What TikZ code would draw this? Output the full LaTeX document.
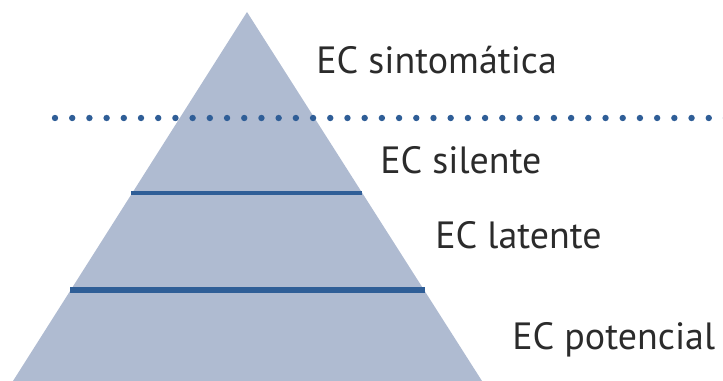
\documentclass[tikz,border=0pt]{standalone}
\usepackage{fontspec}
\setmainfont{PT Sans}
\definecolor{piramide}{HTML}{AFBBD1}
\definecolor{azulfranja}{HTML}{2F5E97}
\definecolor{texto}{HTML}{2B2B2B}
\begin{document}
\begin{tikzpicture}[x=0.025cm, y=-0.025cm,
    etiqueta/.style={anchor=base west, inner sep=0pt, text=texto,
      font=\fontsize{27}{32}\selectfont},
    linea/.style={draw=azulfranja, line width=0.125cm},
    puntos/.style={draw=azulfranja, line width=0.16cm, line cap=round,
      dash pattern=on 0pt off 0.43cm}]
  \useasboundingbox (0,0) rectangle (723,381);

  % Piramide
  \coordinate (cima) at (247,12);
  \coordinate (izq) at (13,381);
  \coordinate (der) at (482,381);
  \fill[piramide] (cima) -- (der) -- (izq) -- cycle;

  % Separaciones entre niveles
  \draw[linea, line width=0.115cm] (131,193) -- (362,193);
  \draw[linea, line width=0.14cm] (70,290) -- (425,290);

  % Umbral clinico
  \draw[puntos] (55,118) -- (735,118);

  % Etiquetas de los niveles
  \node[etiqueta] (sintomatica) at (316,74) {EC sintomática};
  \node[etiqueta] (silente) at (380,173) {EC silente};
  \node[etiqueta] (latente) at (435,248) {EC latente};
  \node[etiqueta] (potencial) at (512,349) {EC potencial};
\end{tikzpicture}
\end{document}
